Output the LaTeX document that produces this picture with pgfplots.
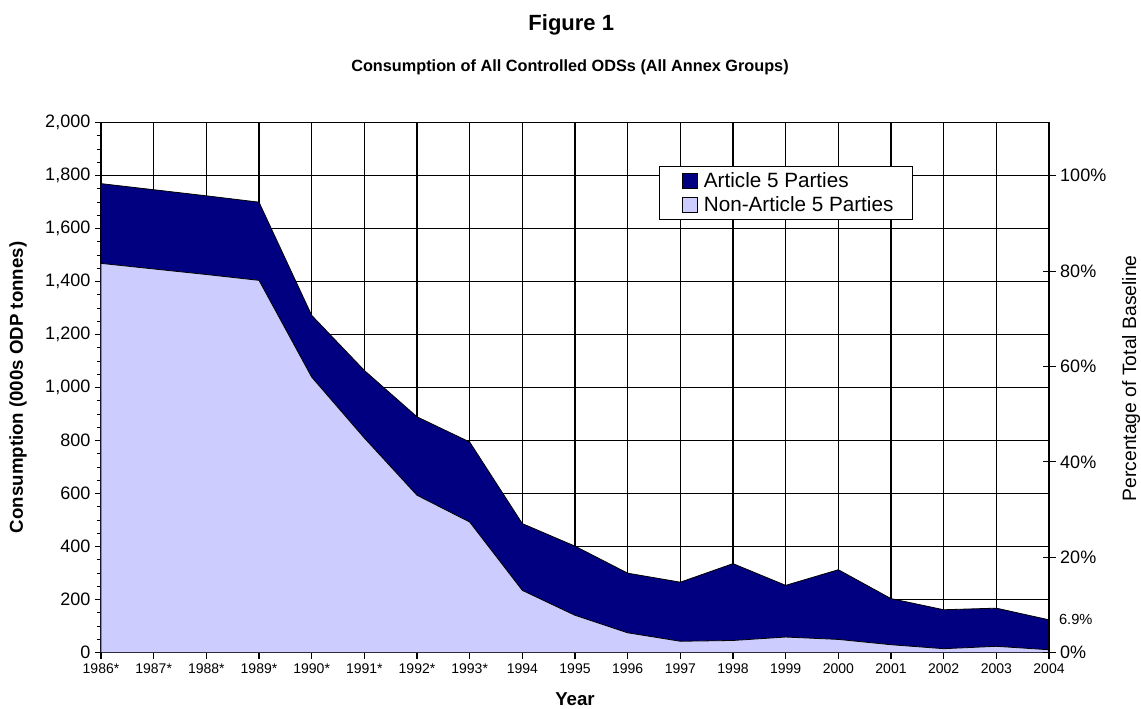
\documentclass[border=0pt]{standalone}
\usepackage{fontspec}
\setmainfont{Liberation Sans}
\usepackage{pgfplots}
\pgfplotsset{compat=1.18}
\definecolor{navyA}{RGB}{0,0,128}
\definecolor{lav}{RGB}{204,204,255}

\begin{document}
\begin{tikzpicture}
\path[use as bounding box] (-75.75pt,-41.8pt) rectangle (780pt,489.5pt);
\begin{axis}[
  at={(0pt,0pt)}, anchor=south west,
  scale only axis, width=711pt, height=397.5pt,
  xmin=0, xmax=18, ymin=0, ymax=2000,
  xtick={0,...,18},
  xticklabels={1986*,1987*,1988*,1989*,1990*,1991*,1992*,1993*,1994,1995,1996,1997,1998,1999,2000,2001,2002,2003,2004},
  x tick label style={font=\fontsize{10.5}{12}\selectfont},
  ytick={0,200,...,2000},
  minor y tick num=3,
  y tick label style={font=\fontsize{13.5}{16}\selectfont},
  /pgf/number format/assume math mode=true,
  /pgf/number format/1000 sep={,},
  xtick pos=bottom, ytick pos=left,
  grid=major, major grid style={black, line width=0.9pt},
  axis line style={black, line width=0.9pt},
  tick style={black, line width=0.8pt},
  tick align=outside,
  major tick length=4.5pt, minor tick length=3pt,
  legend style={at={(0.589,0.919)}, anchor=north west, draw=black, line width=0.8pt,
    font=\fontsize{15.5}{18}\selectfont, cells={anchor=west}, inner xsep=12pt, inner ysep=2.5pt, row sep=1.5pt},
  legend image code/.code={\path[draw=none, fill=none] (0pt,0pt) -- (19pt,0pt); \draw[#1, draw=black, line width=0.6pt] (5pt,-5.6pt) rectangle (16.2pt,5.6pt);},
]
\addplot[fill=navyA, draw=black, line width=0.6pt] coordinates {
(0,1770) (1,1747) (2,1724) (3,1700) (4,1273) (5,1065) (6,890) (7,795) (8,487) (9,402)
(10,300) (11,266) (12,336) (13,254) (14,313) (15,204) (16,162) (17,168) (18,124)
} \closedcycle;
\addlegendentry{Article 5 Parties}
\addplot[fill=lav, draw=black, line width=0.6pt] coordinates {
(0,1469) (1,1448) (2,1427) (3,1405) (4,1040) (5,810) (6,594) (7,493) (8,235) (9,141)
(10,75) (11,43) (12,46) (13,59) (14,50) (15,30) (16,15) (17,24) (18,11)
} \closedcycle;
\addlegendentry{Non-Article 5 Parties}
\end{axis}
\begin{axis}[
  at={(0pt,0pt)}, anchor=south west,
  scale only axis, width=711pt, height=397.5pt,
  xmin=0, xmax=18, ymin=0, ymax=2000,
  axis x line=none, axis y line*=right,
  axis line style={black, line width=0.9pt},
  tick style={black, line width=0.8pt},
  ytick={0,360,720,1080,1440,1800},
  yticklabels={0\%,20\%,40\%,60\%,80\%,100\%},
  y tick label style={font=\fontsize{13.5}{16}\selectfont},
  extra y ticks={124}, extra y tick labels={6.9\%},
  extra y tick style={major tick length=0pt, y tick label style={font=\fontsize{11}{13}\selectfont, xshift=4pt}},
  tick align=center, major tick length=9.75pt,
]
\end{axis}
\node[font=\bfseries\fontsize{16.5}{19}\selectfont] at (352.7pt,470.5pt) {Figure 1};
\node[font=\bfseries\fontsize{12.2}{14}\selectfont] at (351.75pt,439pt) {Consumption of All Controlled ODSs (All Annex Groups)};
\node[font=\bfseries\fontsize{14}{16}\selectfont] at (355.5pt,-35pt) {Year};
\node[font=\bfseries\fontsize{14}{16}\selectfont, rotate=90] at (-62.25pt,199pt) {Consumption (000s ODP tonnes)};
\node[font=\fontsize{14.5}{17}\selectfont, rotate=90] at (772.5pt,205.7pt) {Percentage of Total Baseline};
\end{tikzpicture}
\end{document}
